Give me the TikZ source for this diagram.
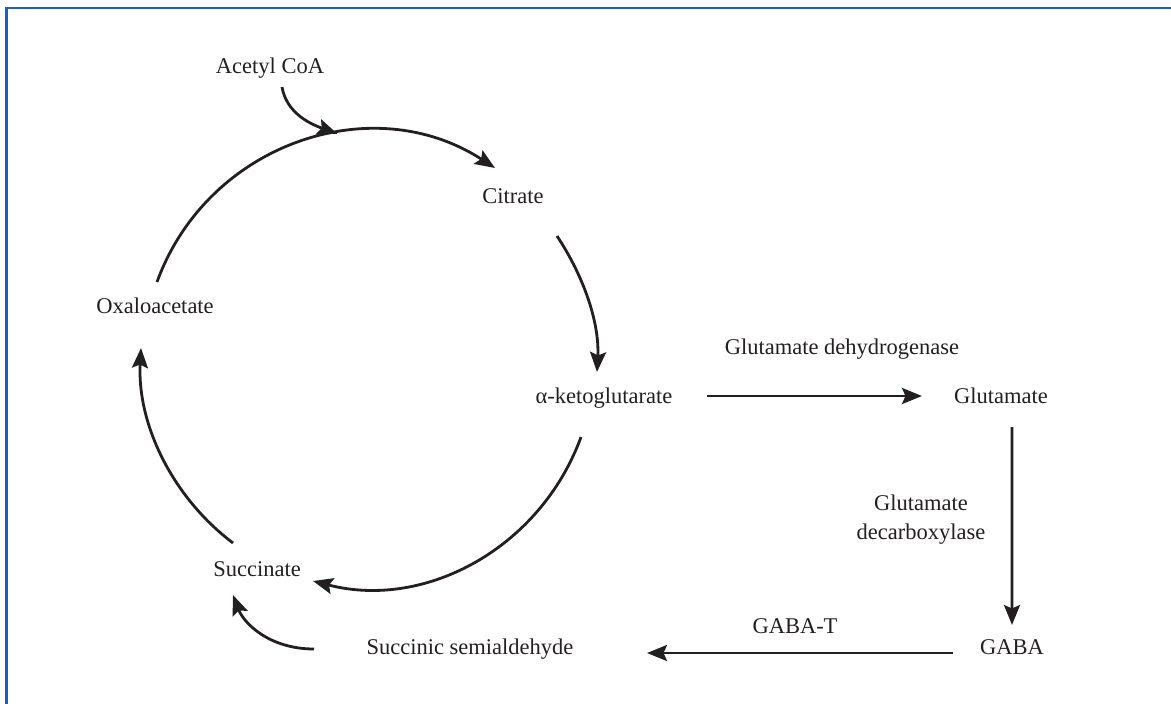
\documentclass[tikz,border=0pt]{standalone}
\usepackage{fontspec}
\setmainfont{Liberation Serif}
\usepackage{tikz}
\usetikzlibrary{arrows.meta}
\definecolor{frameblue}{RGB}{28,92,196}
\definecolor{inkgrey}{RGB}{35,31,32}

\begin{document}
\begin{tikzpicture}[x=10pt,y=10pt]
        \tikzstyle{every node}+=[inner sep=0pt]
        \tikzset{
          metab/.style={anchor=base,font=\fontsize{22.5}{29}\selectfont,text=inkgrey},
          rxn/.style={draw=inkgrey,line width=2.8pt,-{Stealth[length=20pt,width=16pt,inset=3.5pt]}},
        }
        \useasboundingbox (0,0) rectangle (117.1,-70.4);
        \draw [frameblue,line width=2pt] (0.65,-75) |- (125,-0.82);
        % metabolites
        \node [metab] (acetyl) at (27.0,-7.3) {Acetyl CoA};
        \node [metab] (citrate) at (51.3,-20.3) {Citrate};
        \node [metab] (oxalo) at (15.5,-31.3) {Oxaloacetate};
        \node [metab] (akg) at (60.4,-40.3) {α-ketoglutarate};
        \node [metab] (glu) at (100.1,-40.3) {Glutamate};
        \node [metab] (gaba) at (101.2,-65.4) {GABA};
        \node [metab] (ssa) at (47.0,-65.4) {Succinic semialdehyde};
        \node [metab] (succ) at (25.7,-57.6) {Succinate};
        % enzymes
        \node [metab] (gdh) at (84.2,-35.4) {Glutamate dehydrogenase};
        \node [metab,anchor=center,align=center] (gad) at (92.1,-52.0) {Glutamate\\decarboxylase};
        \node [metab] (gabat) at (79.5,-63.3) {GABA-T};
        % cycle
        \draw [rxn] ([shift={(0.2,3.1)}]oxalo.base) .. controls +(70:14.7) and +(147:14.7) .. ([shift={(-1.8,3.5)}]citrate.base) coordinate[pos=0.6] (join);
        \draw [rxn] ([shift={(1.2,-1.4)}]acetyl.base) .. controls +(-80:2.6) and +(160:3.0) .. (join);
        \draw [rxn] ([shift={(4.4,-3.3)}]citrate.base) .. controls +(-56.5:4.9) and +(87:4.9) .. ([shift={(-0.7,3.1)}]akg.base);
        \draw [rxn] ([shift={(-2.3,-3.4)}]akg.base) .. controls +(-110:11.7) and +(-14.5:11.7) .. ([shift={(5.6,-0.5)}]succ.base);
        \draw [rxn] ([shift={(-2.4,3.3)}]succ.base) .. controls +(143:7.6) and +(-93:7.6) .. ([shift={(-1.4,-3.5)}]oxalo.base);
        % GABA shunt
        \draw [rxn] ([shift={(10.3,0.7)}]akg.base) -- ([shift={(-7.9,0.7)}]glu.base);
        \draw [rxn] ([shift={(1.1,-2.4)}]glu.base) -- ([shift={(0,2.9)}]gaba.base);
        \draw [rxn] ([shift={(-5.9,0.1)}]gaba.base) -- ([shift={(17.7,0.1)}]ssa.base);
        \draw [rxn] ([shift={(-15.6,0.5)}]ssa.base) .. controls +(180:4.5) and +(-69:3.0) .. ([shift={(-2.4,-1.9)}]succ.base);
\end{tikzpicture}
\end{document}
